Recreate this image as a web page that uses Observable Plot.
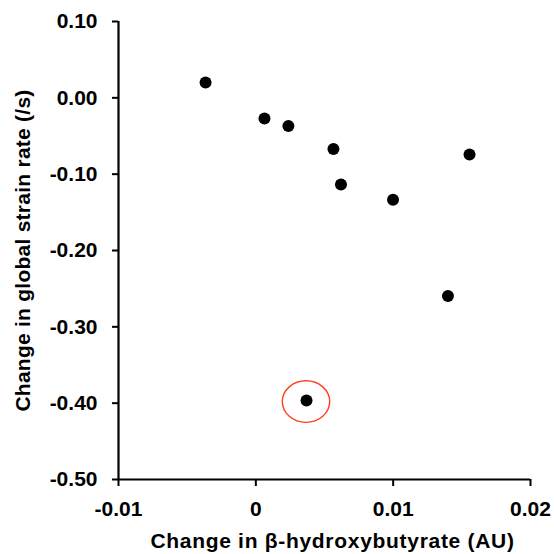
<!DOCTYPE html>
<html>
<head>
<meta charset="utf-8">
<script src="https://cdn.jsdelivr.net/npm/d3@7"></script>
<script src="https://cdn.jsdelivr.net/npm/@observablehq/plot@0.6"></script>
<style>
  html, body { margin: 0; padding: 0; background: #fff; }
  #chart svg { display: block; }
</style>
</head>
<body>
<div id="chart"></div>
<script>
// Data
const bhb = [-0.00366, 0.00063, 0.00237, 0.00565, 0.0062, 0.00999, 0.01556, 0.01399, 0.00369];
const strainRate = [0.0202, -0.0270, -0.0369, -0.0670, -0.1134, -0.1334, -0.0741, -0.2595, -0.3966];
const highlighted = [false, false, false, false, false, false, false, false, true];

const xTicks = [-0.01, 0, 0.01, 0.02];
const xTickLabels = ["-0.01", "0", "0.01", "0.02"];
const yTicks = [0.10, 0.00, -0.10, -0.20, -0.30, -0.40, -0.50];
const yTickLabels = ["0.10", "0.00", "-0.10", "-0.20", "-0.30", "-0.40", "-0.50"];

const xLabel = "Change in β-hydroxybutyrate (AU)";
const yLabel = "Change in global strain rate (/s)";

const points = bhb.map((x, i) => ({x, y: strainRate[i], hi: highlighted[i]}));
const hiPoints = points.filter(d => d.hi);

const font = "Liberation Sans, Arial, Helvetica, sans-serif";

// custom ellipse mark using the plot's scales
function ellipseMark(data, rx, ry, color) {
  return (index, scales, values, dimensions, context) => {
    const g = d3.create("svg:g");
    for (const d of data) {
      g.append("ellipse")
        .attr("cx", scales.x(d.x))
        .attr("cy", scales.y(d.y) + 1.5)
        .attr("rx", rx)
        .attr("ry", ry)
        .attr("fill", "none")
        .attr("stroke", color)
        .attr("stroke-width", 1.4);
    }
    return g.node();
  };
}

const chart = Plot.plot({
  width: 554,
  height: 554,
  marginLeft: 118,
  marginRight: 24,
  marginTop: 21,
  marginBottom: 75,
  style: {fontFamily: font, fontWeight: "bold", fontSize: "21px", color: "#000", background: "#fff"},
  x: {domain: [-0.01, 0.02]},
  y: {domain: [-0.5, 0.1]},
  marks: [
    Plot.axisX({
      ticks: xTicks,
      tickFormat: d => xTickLabels[xTicks.indexOf(d)],
      tickSize: 7,
      tickPadding: 15,
      strokeWidth: 2,
      fontSize: 21,
      fontWeight: "bold",
      label: null
    }),
    Plot.axisY({
      ticks: yTicks,
      tickFormat: d => yTickLabels[yTicks.indexOf(d)],
      tickSize: 6,
      tickPadding: 15,
      strokeWidth: 2,
      fontSize: 21,
      fontWeight: "bold",
      label: null
    }),
    Plot.ruleX([-0.01], {strokeWidth: 2.2}),
    Plot.ruleY([-0.5], {strokeWidth: 2.2}),
    Plot.dot(points, {x: "x", y: "y", r: 6, fill: "#000", stroke: null}),
    ellipseMark(hiPoints, 23.7, 20.8, "#ff4020"),
    Plot.text([xLabel], {
      frameAnchor: "bottom", dy: 68, dx: 8, fontSize: 21, fontWeight: "bold",
      lineAnchor: "bottom", textAnchor: "middle", fill: "#000"
    }),
    Plot.text([yLabel], {
      frameAnchor: "left", dx: -89, dy: 0, rotate: -90, fontSize: 21, fontWeight: "bold",
      lineAnchor: "bottom", textAnchor: "middle", fill: "#000"
    })
  ]
});

// slight letter spacing on axis titles to match the reference's wider lettering
d3.select(chart).selectAll("text").each(function() {
  const t = this.textContent;
  if (t === xLabel) this.style.letterSpacing = "0.7px";
  if (t === yLabel) this.style.letterSpacing = "0.25px";
});

document.getElementById("chart").appendChild(chart);
</script>
</body>
</html>
